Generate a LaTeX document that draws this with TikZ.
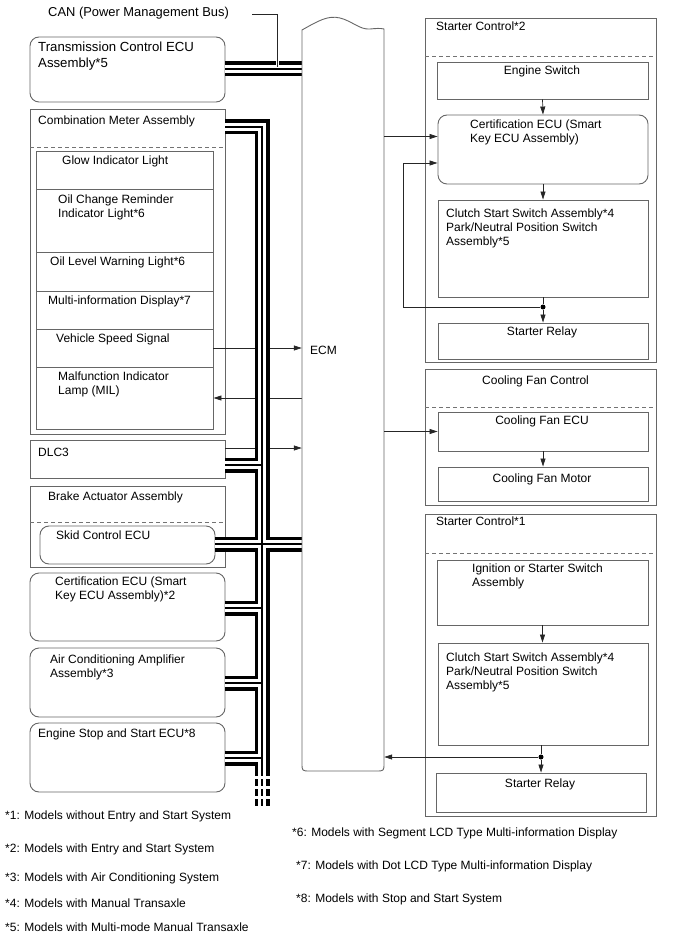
\documentclass[tikz,border=0pt]{standalone}
\usepackage{fontspec}
\setmainfont{Liberation Sans}
\usetikzlibrary{arrows.meta,fit,calc}
\begin{document}
\begin{tikzpicture}[x=1pt,y=-1pt,
  box/.style={draw=black!60,line width=0.9pt,inner sep=0pt},
  rbox/.style={box,rounded corners=9pt},
  txt/.style={inner sep=0pt,font=\fontsize{12}{14}\selectfont,align=left,text=black},
  bigtxt/.style={txt,font=\fontsize{13.2}{15.5}\selectfont},
  cantxt/.style={txt,font=\fontsize{12.9}{15}\selectfont},
  arr/.style={draw=black!85,line width=0.7pt,-{Triangle[length=8pt,width=5pt]}},
  ln/.style={draw=black!85,line width=0.7pt},
  dsh/.style={draw=black!55,line width=0.9pt,dash pattern=on 4pt off 3pt},
  dot/.style={circle,fill=black,inner sep=0pt,minimum size=5pt},
  busA/.style={line width=15pt,black},
  busB/.style={line width=8pt,white},
  busC/.style={line width=1.2pt,black},
]
\useasboundingbox (0,0) rectangle (688,949);

% ---------------- left boxes ----------------
\node[rbox,fit={(30,37) (225,102)}] (tcu) {};
\node[box,fit={(30,109) (225,434)}] (cm) {};
\draw[dsh] (30,147) -- (225,147);
\node[box,fit={(36,151) (213,189)}] (glow) {};
\node[box,fit={(36,189) (213,252)}] (ocr) {};
\node[box,fit={(36,252) (213,291)}] (olw) {};
\node[box,fit={(36,291) (213,329)}] (mid) {};
\node[box,fit={(36,329) (213,367)}] (vss) {};
\node[box,fit={(36,367) (213,429)}] (mil) {};
\node[box,fit={(30,440) (225,478)}] (dlc) {};
\node[box,fit={(30,486) (225,567)}] (brk) {};
\draw[dsh] (30,522) -- (225,522);
\node[rbox,fill=white,fit={(40,526) (215,564)}] (skid) {};
\node[rbox,fit={(30,573) (225,641)}] (cert1) {};
\node[rbox,fit={(30,648) (225,717)}] (ac) {};
\node[rbox,fit={(30,723) (225,792)}] (ess) {};

% ---------------- ECM ----------------
\node[inner sep=0pt,fit={(302,30) (384,771)}] (ecm) {};

% ---------------- right boxes ----------------
\node[box,fit={(425,18) (656,362)}] (sc2) {};
\draw[dsh] (425,56) -- (656,56);
\node[box,fit={(437,62) (648,99)}] (es) {};
\node[rbox,fit={(438,115) (648,184)}] (cert2) {};
\node[box,fit={(438,200) (648,297)}] (cl2) {};
\node[box,fit={(438,323) (648,359)}] (sr2) {};

\node[box,fit={(425,369) (656,505)}] (cfc) {};
\draw[dsh] (425,407) -- (656,407);
\node[box,fit={(438,412) (648,451)}] (fecu) {};
\node[box,fit={(438,467) (648,501)}] (fmot) {};

\node[box,fit={(425,514) (656,816)}] (sc1) {};
\draw[dsh] (425,553) -- (656,553);
\node[box,fit={(437,560) (648,625)}] (ign) {};
\node[box,fit={(438,643) (648,745)}] (cl1) {};
\node[box,fit={(436,773) (646,812)}] (sr1) {};

% ---------------- signal connectors (left, under the bus) ----------------
\draw[arr] (vss.east) -- (vss.east -| ecm.west);
\draw[arr] (mil.east -| ecm.west) -- (mil.east);
\coordinate (d1) at ([yshift=11pt]dlc.east);
\draw[arr] (d1) -- (d1 -| ecm.west);

% ---------------- CAN bus ----------------
\coordinate (jcan) at (302,69);
\coordinate (jt) at (262,127);
\coordinate (jd) at (262,465);
\coordinate (jx) at (262,544);
\coordinate (jc) at (262,608);
\coordinate (ja) at (262,683);
\coordinate (je) at (262,758);
\coordinate (jb) at (262,776);
\coordinate (jy) at (262,779);
\coordinate (jz) at (262,806);
\foreach \s in {busA,busB,busC}{
  \draw[\s] (tcu.east |- jcan) -- (jcan)
            (cm.east |- jt) -- (jt) -- (jb)
            (dlc.east |- jd) -- (jd)
            (skid.east |- jx) -- (jx -| ecm.west)
            (cert1.east |- jc) -- (jc)
            (ac.east |- ja) -- (ja)
            (ess.east |- je) -- (je);
  \draw[\s,dash pattern=on 7pt off 3pt] (jy) -- (jz);
}

% ECM outline
\draw[box] (302,30) .. controls (318,21) and (328,15) .. (340,18)
  .. controls (352,21) and (360,30) .. (370,29)
  .. controls (376,28.5) and (380,28) .. (384,29)
  -- (384,763) .. controls (384,771) .. (376,771)
  -- (310,771) .. controls (302,771) .. (302,763) -- cycle;

% CAN leader
\node[cantxt,anchor=base west] (can) at (48,17) {CAN (Power Management Bus)};
\coordinate (canl) at (252,14);
\coordinate (canj) at (277,67);
\draw[white,line width=3pt] (277,56) -- (canj);
\draw[ln] (canl) -| (canj);

% ---------------- right connectors ----------------
\coordinate (c1) at ([yshift=13pt]cert2.west);
\draw[arr] (ecm.east |- c1) -- (c1);
\draw[arr] (es.south) -- (cert2.north);
\draw[arr] (cert2.south) -- (cl2.north);
\node[dot] (dot2) at (543,307) {};
\draw[ln] (dot2 |- cl2.south) -- (dot2);
\draw[arr] (dot2) -- (dot2 |- sr2.north);
\coordinate (fb1) at (403,307);
\coordinate (fb2) at (403,163);
\draw[arr] (dot2) -- (fb1) -- (fb2) -- (fb2 -| cert2.west);

\draw[arr] (ecm.east |- fecu.west) -- (fecu.west);
\draw[arr] (fecu.south) -- (fmot.north);

\draw[arr] (ign.south) -- (ign.south |- cl1.north);
\node[dot] (dot1) at (541,757) {};
\draw[ln] (dot1 |- cl1.south) -- (dot1);
\draw[arr] (dot1) -- (dot1 |- sr1.north);
\draw[arr] (dot1) -- (dot1 -| ecm.east);

% ---------------- texts ----------------
\node[bigtxt,anchor=north west] (t1) at (38,42) {Transmission Control ECU\\Assembly*5};
\node[txt,anchor=base west] (t2) at (38,124.3) {Combination Meter Assembly};
\node[txt,anchor=base west] (t3) at (62,164.3) {Glow Indicator Light};
\node[txt,anchor=north west] (t4) at (58,194.5) {Oil Change Reminder\\Indicator Light*6};
\node[txt,anchor=base west] (t5) at (50,265.3) {Oil Level Warning Light*6};
\node[txt,anchor=base west] (t6) at (48,304.3) {Multi-information Display*7};
\node[txt,anchor=base west] (t7) at (56,342.3) {Vehicle Speed Signal};
\node[txt,anchor=north west] (t8) at (58,371.5) {Malfunction Indicator\\Lamp (MIL)};
\node[txt,anchor=base west] (t9) at (38,456.3) {DLC3};
\node[txt,anchor=base west] (t10) at (48,500.3) {Brake Actuator Assembly};
\node[txt,anchor=base west] (t11) at (56,539.3) {Skid Control ECU};
\node[txt,anchor=north west] (t12) at (55,576.5) {Certification ECU (Smart\\Key ECU Assembly)*2};
\node[txt,anchor=north west] (t13) at (50,654.5) {Air Conditioning Amplifier\\Assembly*3};
\node[txt,anchor=base west] (t14) at (38,737.3) {Engine Stop and Start ECU*8};
\node[txt,anchor=base west] (t15) at (310,354.3) {ECM};

\node[txt,anchor=base west] (t16) at (436,30.3) {Starter Control*2};
\node[txt,anchor=base] (t17) at (542,74.3) {Engine Switch};
\node[txt,anchor=north west] (t18) at (470,119.5) {Certification ECU (Smart\\Key ECU Assembly)};
\node[txt,anchor=north west] (t19) at (446,208.5) {Clutch Start Switch Assembly*4\\Park/Neutral Position Switch\\Assembly*5};
\node[txt,anchor=base] (t20) at (542,335.3) {Starter Relay};
\node[txt,anchor=base west] (t21) at (482,384.3) {Cooling Fan Control};
\node[txt,anchor=base] (t22) at (542,424.3) {Cooling Fan ECU};
\node[txt,anchor=base] (t23) at (542,482.3) {Cooling Fan Motor};
\node[txt,anchor=base west] (t24) at (436,525.3) {Starter Control*1};
\node[txt,anchor=north west] (t25) at (472,563.5) {Ignition or Starter Switch\\Assembly};
\node[txt,anchor=north west] (t26) at (446,652.5) {Clutch Start Switch Assembly*4\\Park/Neutral Position Switch\\Assembly*5};
\node[txt,anchor=base] (t27) at (540,787.3) {Starter Relay};

\node[txt,anchor=base west] (f1) at (5,819.3) {*1: Models without Entry and Start System};
\node[txt,anchor=base west] (f2) at (5,852.3) {*2: Models with Entry and Start System};
\node[txt,anchor=base west] (f3) at (5,881.3) {*3: Models with Air Conditioning System};
\node[txt,anchor=base west] (f4) at (5,907.3) {*4: Models with Manual Transaxle};
\node[txt,anchor=base west] (f5) at (5,931.3) {*5: Models with Multi-mode Manual Transaxle};
\node[txt,anchor=base west] (f6) at (292,836.3) {*6: Models with Segment LCD Type Multi-information Display};
\node[txt,anchor=base west] (f7) at (296,869.3) {*7: Models with Dot LCD Type Multi-information Display};
\node[txt,anchor=base west] (f8) at (296,902.3) {*8: Models with Stop and Start System};
\end{tikzpicture}
\end{document}
